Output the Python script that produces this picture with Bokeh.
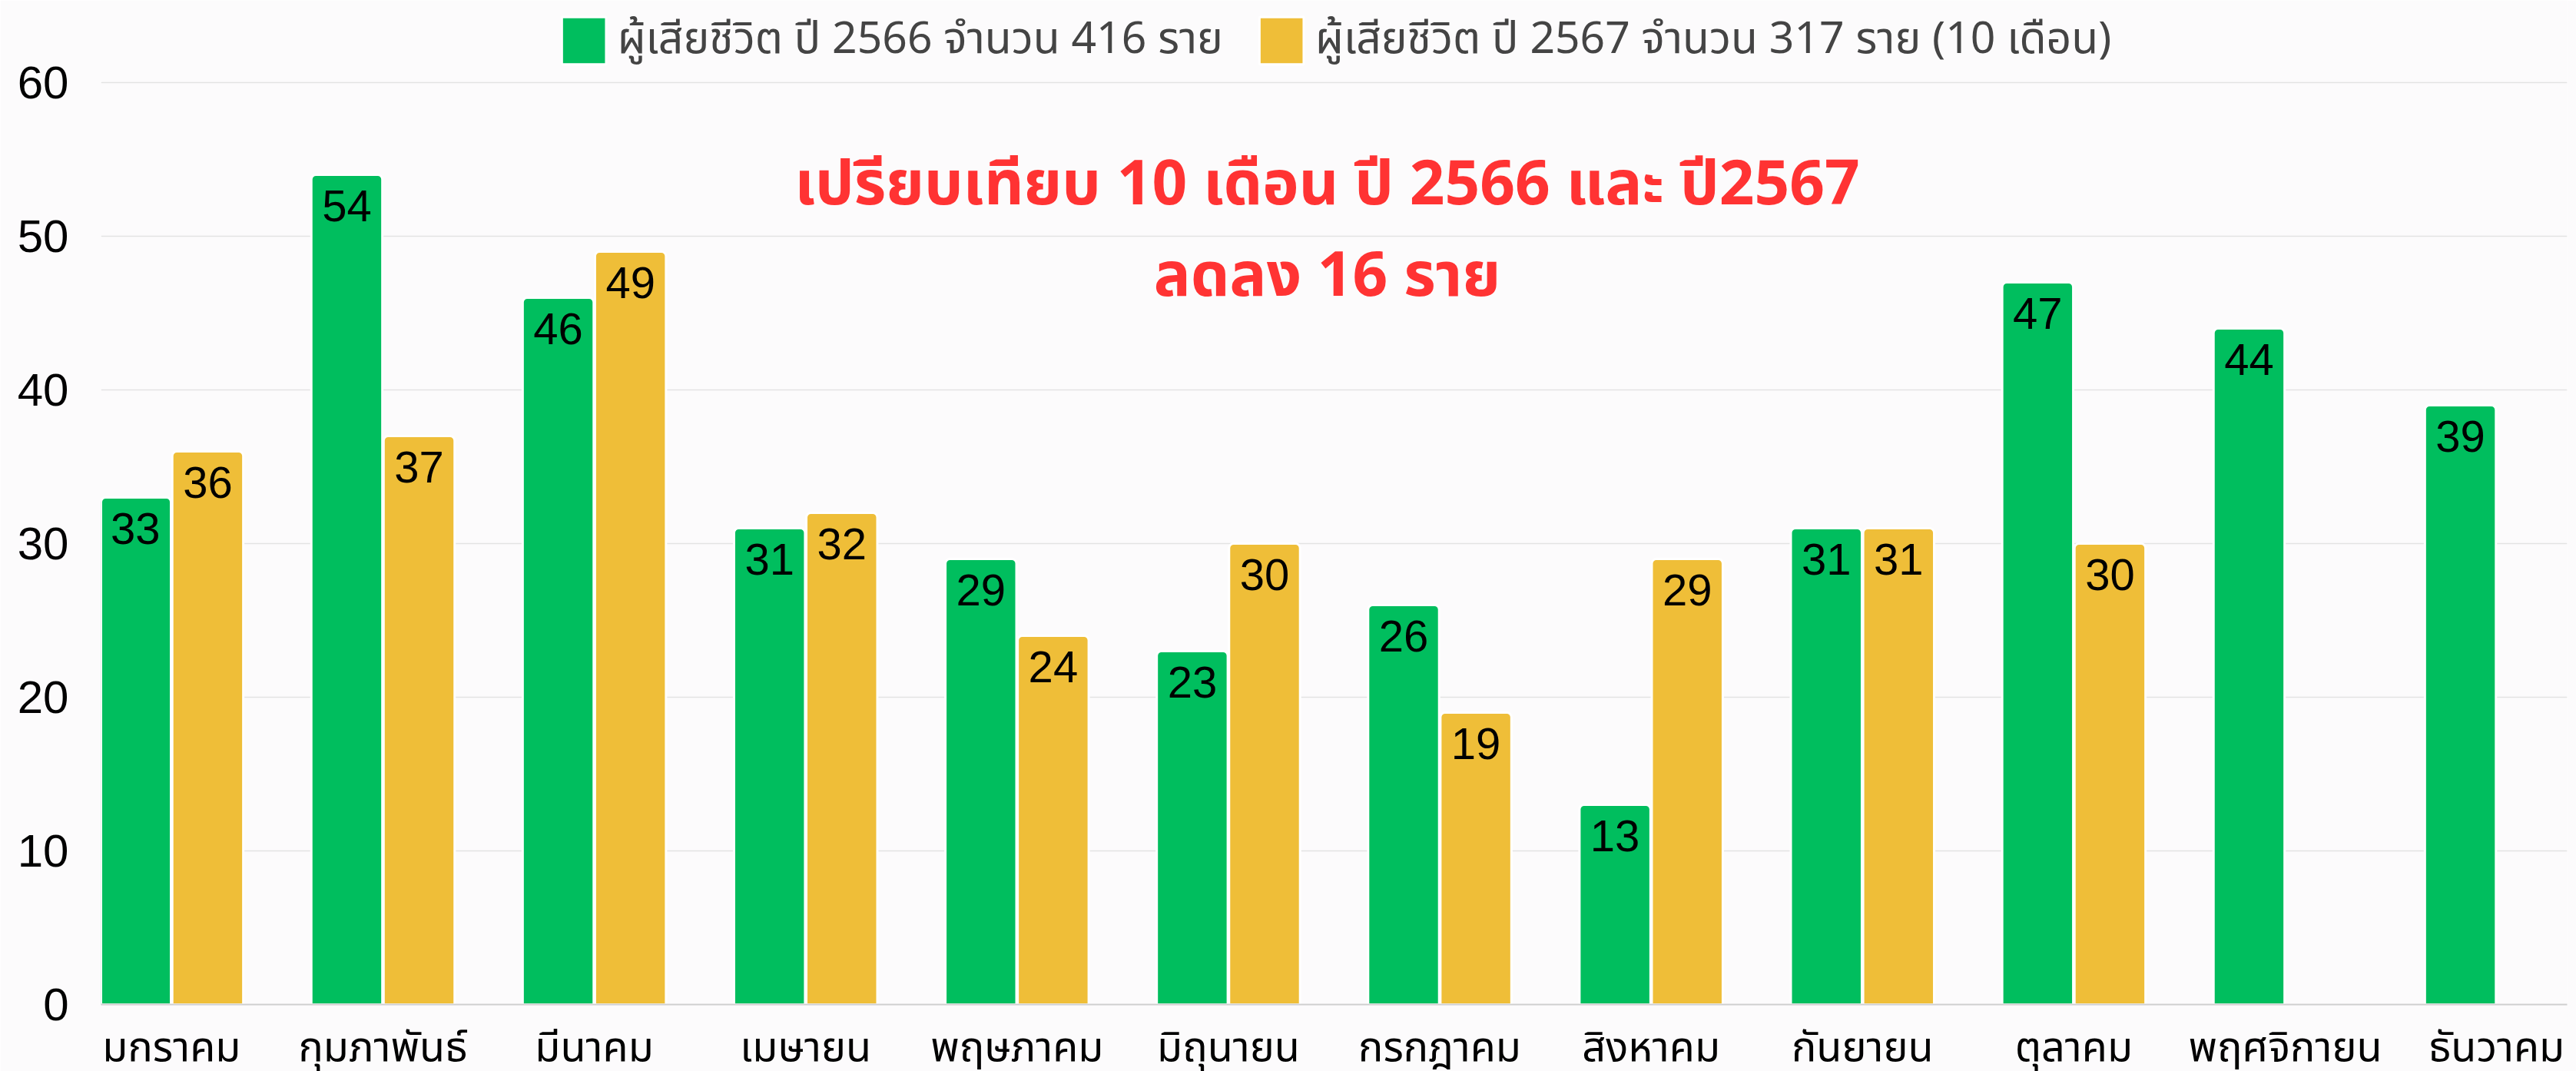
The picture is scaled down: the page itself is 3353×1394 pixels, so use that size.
from bokeh.plotting import figure
from bokeh.models import (ColumnDataSource, Range1d, FixedTicker, Legend, LegendItem, Label)
from bokeh.transform import dodge
from bokeh.core.properties import value
from bokeh.embed import file_html
from bokeh.resources import INLINE

months = ["มกราคม", "กุมภาพันธ์", "มีนาคม", "เมษายน", "พฤษภาคม", "มิถุนายน",
          "กรกฎาคม", "สิงหาคม", "กันยายน", "ตุลาคม", "พฤศจิกายน", "ธันวาคม"]
deaths_2566 = [33, 54, 46, 31, 29, 23, 26, 13, 31, 47, 44, 39]
deaths_2567 = [36, 37, 49, 32, 24, 30, 19, 29, 31, 30]
label_2566 = "ผู้เสียชีวิต ปี 2566 จำนวน 416 ราย"
label_2567 = "ผู้เสียชีวิต ปี 2567 จำนวน 317 ราย (10 เดือน)"
title_line1 = "เปรียบเทียบ 10 เดือน ปี 2566 และ ปี2567"
title_line2 = "ลดลง 16 ราย"
y_ticks = [0, 10, 20, 30, 40, 50, 60]

GREEN = "#00BE5E"
YELLOW = "#EFBE38"
BG = "#FCFBFC"
FONT = "Liberation Sans"
THAI = "'Noto Sans Thai', 'Noto Sans', sans-serif"
THAI_AXIS = "'Liberation Sans', 'Noto Sans Thai', sans-serif"

src1 = ColumnDataSource(dict(x=list(range(len(deaths_2566))), y=deaths_2566,
                             t=[str(v) for v in deaths_2566]))
src2 = ColumnDataSource(dict(x=list(range(len(deaths_2567))), y=deaths_2567,
                             t=[str(v) for v in deaths_2567]))

# frame spans the whole height above the x axis; top 107px are space above 60
p = figure(width=3353, height=1394, output_backend="svg", toolbar_location=None,
           x_range=Range1d(-0.334, len(months) - 1 + 0.334),
           y_range=Range1d(0, 60 + 107 / 20.0),
           background_fill_color=BG, border_fill_color=BG, outline_line_color=None,
           min_border_left=131, min_border_right=12, min_border_top=0, min_border_bottom=87)

off = 0.171
bw = 0.336
r1 = p.vbar(x=dodge("x", -off), top="y", width=bw, source=src1, fill_color=GREEN,
            line_color="white", line_width=3, border_radius=(6, 6, 0, 0))
r2 = p.vbar(x=dodge("x", off), top="y", width=bw, source=src2, fill_color=YELLOW,
            line_color="white", line_width=3, border_radius=(6, 6, 0, 0))

for src, d in ((src1, -off), (src2, off)):
    p.text(x=dodge("x", d), y="y", text="t", source=src, text_align="center",
           text_baseline="top", y_offset=20, text_font=value(FONT),
           text_font_size="58px", text_color="black")

# axes
p.xaxis.ticker = FixedTicker(ticks=list(range(len(months))))
p.xaxis.major_label_overrides = {i: m for i, m in enumerate(months)}
p.xaxis.major_label_text_font_size = "54px"
p.xaxis.major_label_text_font = THAI_AXIS
p.xaxis.major_label_text_color = "black"
p.xaxis.major_label_standoff = 18
p.xaxis.axis_line_color = "#CFCFCF"
p.xaxis.axis_line_width = 2
p.xaxis.major_tick_line_color = None
p.xaxis.minor_tick_line_color = None

p.yaxis.ticker = FixedTicker(ticks=y_ticks)
p.yaxis.major_label_text_font_size = "60px"
p.yaxis.major_label_text_font = FONT
p.yaxis.major_label_text_color = "black"
p.yaxis.major_label_standoff = 36
p.yaxis.axis_line_color = None
p.yaxis.major_tick_line_color = None
p.yaxis.minor_tick_line_color = None

p.xgrid.grid_line_color = None
p.ygrid.grid_line_color = "#E3E3E3"
p.ygrid.grid_line_width = 1.5

legend = Legend(items=[LegendItem(label=label_2566, renderers=[r1]),
                       LegendItem(label=label_2567, renderers=[r2])],
                orientation="horizontal", location="top_center",
                glyph_width=72, glyph_height=77, label_text_font_size="57px",
                label_text_font=THAI, label_standoff=8, spacing=40,
                padding=0, margin=9, border_line_color=None,
                background_fill_alpha=0.0, label_height=62)
p.add_layout(legend, "center")

for txt, yy in ((title_line1, 1307 - 241), (title_line2, 1307 - 360)):
    p.add_layout(Label(x=1596, y=yy, x_units="screen", y_units="screen", text=txt,
                       text_align="center", text_baseline="middle",
                       text_font=THAI, text_font_size="80px",
                       text_font_style="bold", text_color="#FF3333"))

open("out.html", "w").write(file_html(p, INLINE))
